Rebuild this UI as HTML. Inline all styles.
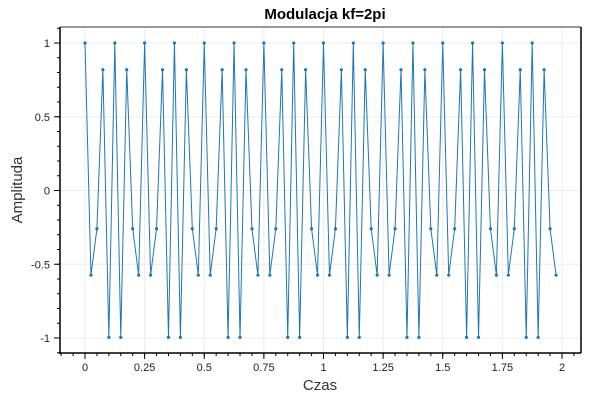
<!DOCTYPE html>
<html><head><meta charset="utf-8"><style>
body{margin:0;background:#fff}
svg text{font-family:"Liberation Sans",sans-serif}
</style></head><body>
<svg id="c" width="600" height="400">
<text x="325" y="19" text-anchor="middle" font-size="15" font-weight="bold">Modulacja kf=2pi</text>
<text x="320" y="390" text-anchor="middle" font-size="15" fill="#333">Czas</text>
<text transform="translate(22,190) rotate(-90)" text-anchor="middle" font-size="15" fill="#333">Amplituda</text>
</svg>
<script>
const times=[];
for(let i=0;i<80;i++){times.push(i*0.025);}
const values80=[1,-0.574,-0.259,0.819,-0.996,1,-0.996,0.819,-0.259,-0.574,1,-0.574,-0.259,0.819,-0.996,1,-0.996,0.819,-0.259,-0.574,1,-0.574,-0.259,0.819,-0.996,1,-0.996,0.819,-0.259,-0.574,1,-0.574,-0.259,0.819,-0.996,1,-0.996,0.819,-0.259,-0.574,1,-0.574,-0.259,0.819,-0.996,1,-0.996,0.819,-0.259,-0.574,1,-0.574,-0.259,0.819,-0.996,1,-0.996,0.819,-0.259,-0.574,1,-0.574,-0.259,0.819,-0.996,1,-0.996,0.819,-0.259,-0.574,1,-0.574,-0.259,0.819,-0.996,1,-0.996,0.819,-0.259,-0.574];
const xTicks=[0,0.25,0.5,0.75,1,1.25,1.5,1.75,2];
const xTickLabels=["0","0.25","0.5","0.75","1","1.25","1.5","1.75","2"];
const yTicks=[1,0.5,0,-0.5,-1];
const yTickLabels=["1","0.5","0","-0.5","-1"];
const NS="http://www.w3.org/2000/svg";
const svg=document.getElementById('c');
const X=t=>85+t*238.5, Y=v=>190.5-v*147.5;
function mk(tag,a,parent){const e=document.createElementNS(NS,tag);for(const k in a)e.setAttribute(k,a[k]);(parent||svg).appendChild(e);return e;}
xTicks.forEach((t,i)=>{
 const g=mk('line',{x1:X(t),x2:X(t),y1:27,y2:353,stroke:'#ececec'});
 
 
 const tk=mk('line',{x1:X(t),x2:X(t),y1:353,y2:359,stroke:'#000'});
 
 
 const l=mk('text',{x:X(t),y:371,'text-anchor':'middle','font-size':11,fill:'#222'});
 l.textContent=xTickLabels[i];
 
 
});
for(let t=-0.1;t<=2.08;t+=0.05){const m=mk('line',{x1:X(t),x2:X(t),y1:353,y2:356,stroke:'#000'});
 
 }
yTicks.forEach((v,i)=>{
 const g=mk('line',{x1:60,x2:581,y1:Y(v),y2:Y(v),stroke:'#ececec'});
 
 
 const tk=mk('line',{x1:54,x2:60,y1:Y(v),y2:Y(v),stroke:'#000'});
 
 
 const l=mk('text',{x:50,y:Y(v)+4,'text-anchor':'end','font-size':11,fill:'#222'});
 l.textContent=yTickLabels[i];
 
 
});
for(let v=-1.1;v<=1.2;v+=0.1){if(Y(v)<27||Y(v)>353)continue;const m=mk('line',{x1:57,x2:60,y1:Y(v),y2:Y(v),stroke:'#000'});
 
 }
const topFrame=mk('line',{x1:60,x2:581,y1:27,y2:27,stroke:'#777','stroke-width':1.5});


const rightFrame=mk('line',{x1:581,x2:581,y1:27,y2:353,stroke:'#000','stroke-width':1.5});


const la=mk('line',{x1:60,x2:60,y1:27,y2:354,stroke:'#000','stroke-width':1.5});


const ba=mk('line',{x1:59,x2:581,y1:353,y2:353,stroke:'#000','stroke-width':1.5});


const pts=times.map((t,i)=>X(t)+','+Y(values80[i])).join(' ');
const pl=mk('polyline',{points:pts,fill:'none',stroke:'#1f77b4','stroke-width':1});


times.forEach((t,i)=>{const c=mk('circle',{cx:X(t),cy:Y(values80[i]),r:1.6,fill:'#1f77b4'});
 
 });
</script>
</body></html>
